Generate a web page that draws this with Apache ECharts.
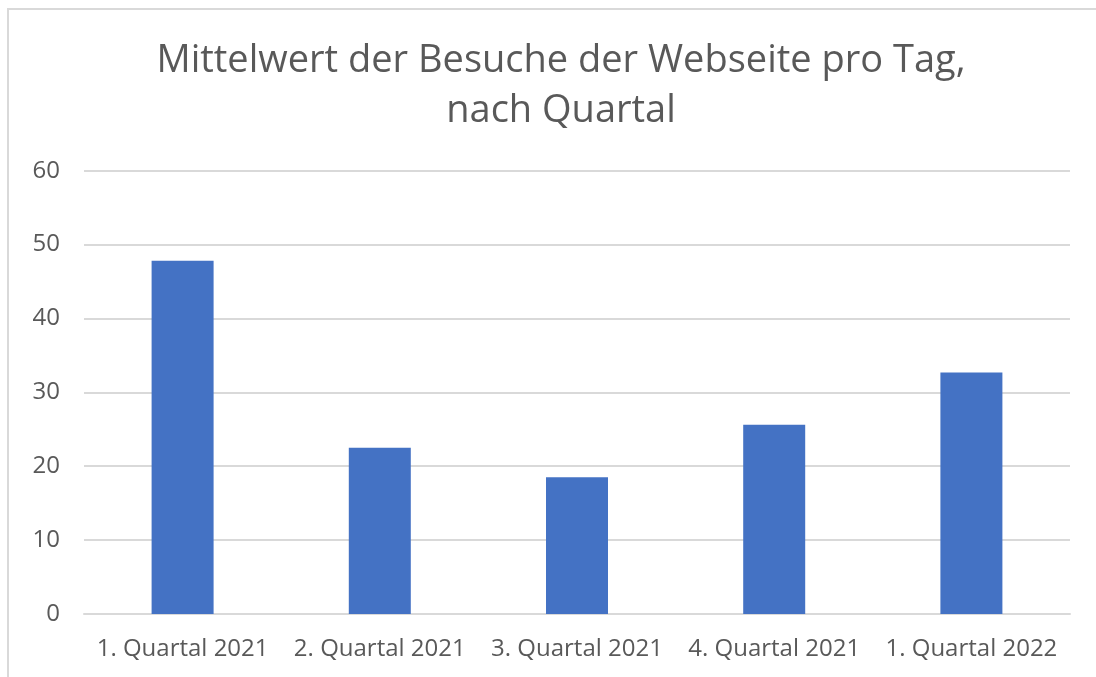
<!DOCTYPE html>
<html>
<head>
<meta charset="utf-8">
<script src="https://cdn.jsdelivr.net/npm/echarts@6/dist/echarts.min.js"></script>
<style>html,body{margin:0;padding:0;background:#fff}#c{width:1096px;height:677px}</style>
</head>
<body>
<div id="c"></div>
<script>
const titleLines = ['Mittelwert der Besuche der Webseite pro Tag,', 'nach Quartal'];
const categories = ['1. Quartal 2021', '2. Quartal 2021', '3. Quartal 2021', '4. Quartal 2021', '1. Quartal 2022'];
const values = [47.8, 22.5, 18.5, 25.6, 32.7];
const yTicks = [0, 10, 20, 30, 40, 50, 60];

const FONT = 'Open Sans';
const chart = echarts.init(document.getElementById('c'), null, {renderer: 'canvas'});
chart.setOption({
  animation: false,
  backgroundColor: '#fff',
  title: {
    text: titleLines.join('\n'),
    left: 556, top: 31, textAlign: 'center',
    textStyle: {fontFamily: FONT, fontSize: 38, fontWeight: 'normal', color: '#595959', lineHeight: 50}
  },
  graphic: [{
    type: 'rect', silent: true,
    shape: {x: 8, y: 9, width: 1200, height: 800},
    style: {fill: 'none', stroke: '#d9d9d9', lineWidth: 2}
  }],
  grid: {left: 84, right: 26, top: 170.7, bottom: 63, containLabel: false},
  xAxis: {
    type: 'category', data: categories,
    axisLine: {show: true, lineStyle: {color: '#d9d9d9', width: 2}},
    axisTick: {show: false},
    axisLabel: {interval: 0, hideOverlap: false, fontFamily: FONT, fontSize: 24, color: '#595959', margin: 23}
  },
  yAxis: {
    type: 'value', min: yTicks[0], max: yTicks[yTicks.length - 1], interval: 10,
    axisLine: {show: false}, axisTick: {show: false},
    splitLine: {lineStyle: {color: '#d9d9d9', width: 2}},
    axisLabel: {fontFamily: FONT, fontSize: 24, color: '#595959', margin: 24}
  },
  series: [{
    type: 'bar', data: values, barWidth: 62,
    itemStyle: {color: '#4472c4'}
  }]
});
</script>
</body>
</html>
